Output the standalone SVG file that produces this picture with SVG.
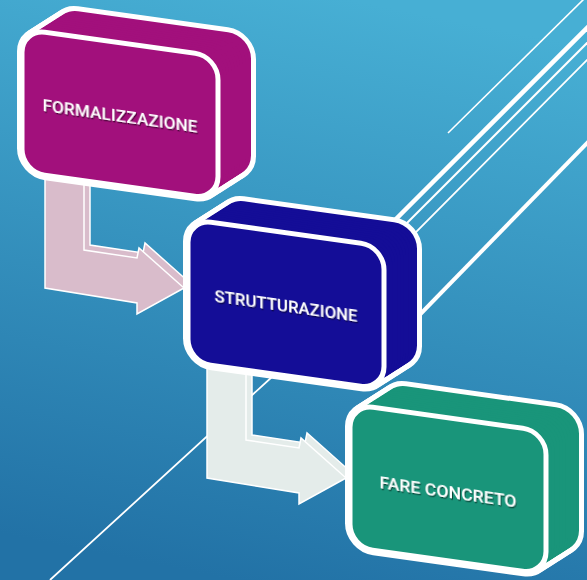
<svg xmlns="http://www.w3.org/2000/svg" xmlns:xlink="http://www.w3.org/1999/xlink" width="587" height="580" viewBox="0 0 587 580">
  <defs>
    <linearGradient id="bg" x1="0.6" y1="0" x2="0.4" y2="1">
      <stop offset="0" stop-color="#47AFD4"/>
      <stop offset="1" stop-color="#2272A6"/>
    </linearGradient>
    <filter id="sh" x="-10%" y="-50%" width="120%" height="200%">
      <feDropShadow dx="1" dy="1.3" stdDeviation="0.6" flood-color="#000" flood-opacity="0.55"/>
    </filter>
    <rect id="face" x="0" y="0" width="196" height="143" rx="23" ry="23"/>
    <g id="stack">
      <use href="#face" transform="translate(33,-25.6)"/>
      <use href="#face" transform="translate(30.25,-23.47)"/>
      <use href="#face" transform="translate(27.5,-21.33)"/>
      <use href="#face" transform="translate(24.75,-19.2)"/>
      <use href="#face" transform="translate(22,-17.07)"/>
      <use href="#face" transform="translate(19.25,-14.93)"/>
      <use href="#face" transform="translate(16.5,-12.8)"/>
      <use href="#face" transform="translate(13.75,-10.67)"/>
      <use href="#face" transform="translate(11,-8.53)"/>
      <use href="#face" transform="translate(8.25,-6.4)"/>
      <use href="#face" transform="translate(5.5,-4.27)"/>
      <use href="#face" transform="translate(2.75,-2.13)"/>
      <use href="#face"/>
    </g>
    <polygon id="arrow" points="0,-22 39,-22 39,74 92,82 94,72 139,112 92,138 92,127 0,112"/>
  </defs>
  <style>
    .ln { stroke:#fff; fill:none; stroke-linecap:butt }
    .sil { fill:#fff; stroke:#fff; stroke-width:10; stroke-linejoin:round }
    .front { stroke:#fff; stroke-width:5 }
    .arr { stroke:#fff; stroke-width:1.5; stroke-linejoin:miter }
    .lbl { font-family:"Roboto","DejaVu Sans Condensed","Liberation Sans",sans-serif; font-size:16px; font-weight:500; fill:#fff; text-anchor:middle; filter:url(#sh) }
  </style>
  <rect x="0" y="0" width="587" height="580" fill="url(#bg)"/>

  <g id="connectors">
    <line class="ln" x1="448" y1="133" x2="586" y2="-3" stroke-width="1.6"/>
    <line class="ln" x1="590" y1="25" x2="380" y2="235" stroke-width="4.5"/>
    <line class="ln" x1="590" y1="40" x2="390" y2="240" stroke-width="2"/>
    <polyline class="ln" points="590,57 273,376 50,580" stroke-width="1.8"/>
    <line class="ln" x1="590" y1="140" x2="400" y2="335" stroke-width="4"/>
    <g id="arrow1" transform="translate(45,176)">
      <use href="#arrow" class="arr" fill="#D9BCCB" transform="translate(6,-5)"/>
      <use href="#arrow" class="arr" fill="#D9BCCB"/>
    </g>
    <g id="arrow2" transform="translate(207,366)">
      <use href="#arrow" class="arr" fill="#E4ECEA" transform="translate(6,-5)"/>
      <use href="#arrow" class="arr" fill="#E4ECEA"/>
    </g>
  </g>

  <g id="formalizzazione" transform="translate(22,29) skewY(8)">
    <use href="#stack" class="sil"/>
    <use href="#stack" fill="#A2107C"/>
    <use href="#face" class="front" fill="#A2107C"/>
    <text class="lbl" x="98" y="79" textLength="155" lengthAdjust="spacingAndGlyphs">FORMALIZZAZIONE</text>
  </g>

  <g id="strutturazione" transform="translate(188,219) skewY(8)">
    <use href="#stack" class="sil"/>
    <use href="#stack" fill="#140D97"/>
    <use href="#face" class="front" fill="#140D97"/>
    <text class="lbl" x="98" y="79" textLength="143" lengthAdjust="spacingAndGlyphs">STRUTTURAZIONE</text>
  </g>

  <g id="fare-concreto" transform="translate(350,404) skewY(8)">
    <use href="#stack" class="sil"/>
    <use href="#stack" fill="#19957A"/>
    <use href="#face" class="front" fill="#19957A"/>
    <text class="lbl" x="98" y="80" textLength="137" lengthAdjust="spacingAndGlyphs">FARE CONCRETO</text>
  </g>
</svg>
